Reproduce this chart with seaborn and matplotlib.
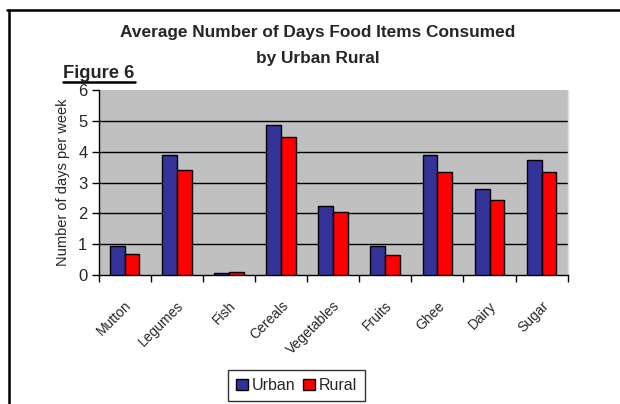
import matplotlib
matplotlib.use("Agg")
import matplotlib.pyplot as plt
from matplotlib.lines import Line2D
import seaborn as sns
import pandas as pd
import numpy as np

categories = ["Mutton", "Legumes", "Fish", "Cereals", "Vegetables", "Fruits", "Ghee", "Dairy", "Sugar"]
urban = [0.95, 3.88, 0.05, 4.88, 2.24, 0.94, 3.88, 2.79, 3.73]
rural = [0.69, 3.39, 0.10, 4.48, 2.03, 0.65, 3.33, 2.43, 3.33]
series = ["Urban", "Rural"]
yticks = [0, 1, 2, 3, 4, 5, 6]

df = pd.DataFrame({
    "item": categories * 2,
    "days": urban + rural,
    "area": ["Urban"] * len(categories) + ["Rural"] * len(categories),
})

sns.set_theme(style="white")
plt.rcParams["font.family"] = ["Liberation Sans", "DejaVu Sans"]

fig = plt.figure(figsize=(6.2, 4.04), dpi=100)
ax = fig.add_axes([98.5 / 620, 1 - 275 / 404, (567.7 - 98.5) / 620, (275 - 90) / 404])
ax.set_facecolor("#C0C0C0")

sns.barplot(data=df, x="item", y="days", hue="area", order=categories, hue_order=series,
            palette={"Urban": "#333399", "Rural": "#FF0000"}, saturation=1, edgecolor="black",
            linewidth=1.0, width=0.57, gap=0, ax=ax, legend=False, zorder=3)

ax.set_xlim(-0.5, len(categories) - 0.5)
ax.set_ylim(0, 6)
ax.set_yticks(yticks)
ax.set_yticklabels([str(v) for v in yticks], fontsize=12)
ax.yaxis.grid(True, color="black", linewidth=1.0, zorder=1)
ax.set_axisbelow(True)
ax.get_ygridlines()[-1].set_visible(False)
ax.get_ygridlines()[0].set_visible(False)

ax.set_xticks(range(len(categories)))
ax.set_xticklabels(categories, rotation=45, ha="right", rotation_mode="anchor", fontsize=10)
ax.tick_params(axis="x", which="major", length=0, pad=17)
ax.set_xticks(np.arange(-0.5, len(categories), 1.0), minor=True)
ax.tick_params(axis="x", which="minor", length=5, width=1, color="black", direction="out", bottom=True)
ax.tick_params(axis="y", length=5, width=1, color="black", direction="out", left=True, pad=3)

for s in ["left", "bottom"]:
    ax.spines[s].set_visible(True)
    ax.spines[s].set_color("black")
    ax.spines[s].set_linewidth(1.0)
ax.spines["top"].set_visible(False)
ax.spines["right"].set_visible(True)
ax.spines["right"].set_color("#E0E0E0")
ax.spines["right"].set_linewidth(1.0)

ax.set_xlabel("")
ax.set_ylabel("Number of days per week", fontsize=10.5, labelpad=6)

fig.text(318 / 620, 1 - 33 / 404, "Average Number of Days Food Items Consumed",
         ha="center", va="center", fontsize=12.4, fontweight="bold")
fig.text(318 / 620, 1 - 58 / 404, "by Urban Rural",
         ha="center", va="center", fontsize=12.4, fontweight="bold")
fig.text(63 / 620, 1 - 73 / 404, "Figure 6", ha="left", va="center",
         fontsize=13.2, fontweight="bold")
fig.add_artist(Line2D([63 / 620, 135 / 620], [1 - 82 / 404, 1 - 82 / 404], color="black", linewidth=1.8))

# frame lines
fig.add_artist(Line2D([7 / 620, 1.0], [1 - 10 / 404, 1 - 10 / 404], color="black", linewidth=1.8))
fig.add_artist(Line2D([9 / 620, 9 / 620], [1 - 10 / 404, 0.0], color="black", linewidth=1.8))

handles = [plt.Rectangle((0, 0), 1, 1, facecolor="#333399", edgecolor="black", linewidth=1),
           plt.Rectangle((0, 0), 1, 1, facecolor="#FF0000", edgecolor="black", linewidth=1)]
leg = fig.legend(handles, series, loc="upper left", bbox_to_anchor=(228 / 620, 1 - 370 / 404),
                 ncol=2, frameon=True, fancybox=False, fontsize=11.5, handlelength=0.75, handleheight=0.75,
                 handletextpad=0.25, columnspacing=0.45, borderpad=0.5, borderaxespad=0)
leg.get_frame().set_edgecolor("black")
leg.get_frame().set_linewidth(1.0)

fig.savefig("out.png", dpi=100, facecolor="white")
